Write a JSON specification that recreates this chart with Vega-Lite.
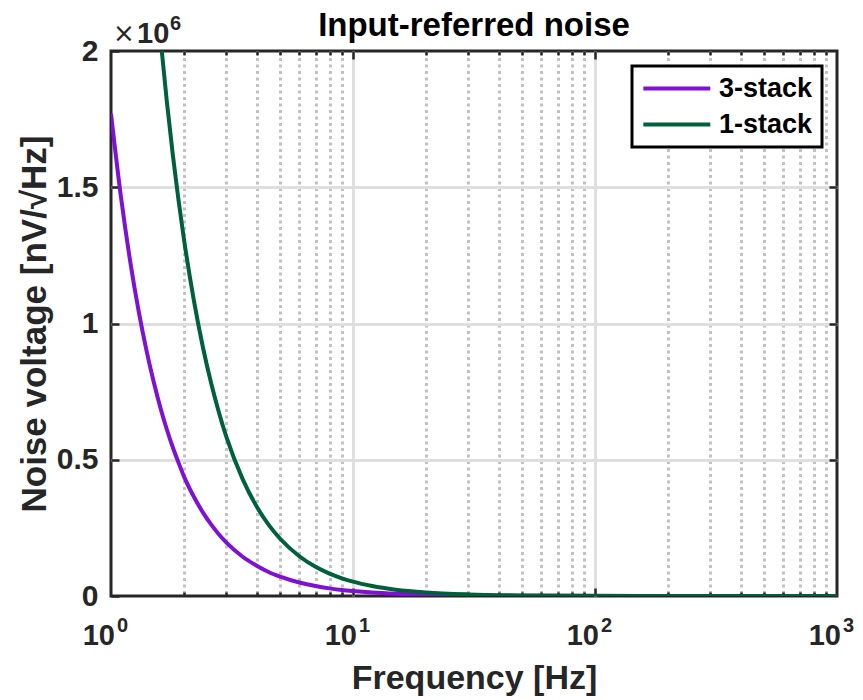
{
  "$schema": "https://vega.github.io/schema/vega-lite/v6.json",
  "width": 726,
  "height": 545,
  "autosize": {"type": "none"},
  "padding": {"left": 111, "top": 51, "right": 26, "bottom": 104},
  "background": "white",
  "title": {"text": "Input-referred noise", "fontSize": 33, "font": "Liberation Sans", "fontWeight": "bold", "color": "#000000", "offset": 9, "dy": 38, "anchor": "middle", "frame": "group"},
  "datasets": {
    "curves": [
      {"f": 1, "v": 1770000, "s": "3-stack"},
      {"f": 1.1, "v": 1463000, "s": "3-stack"},
      {"f": 1.2, "v": 1229000, "s": "3-stack"},
      {"f": 1.3, "v": 1047000, "s": "3-stack"},
      {"f": 1.4, "v": 903000, "s": "3-stack"},
      {"f": 1.5, "v": 787000, "s": "3-stack"},
      {"f": 1.6, "v": 691000, "s": "3-stack"},
      {"f": 1.7, "v": 612000, "s": "3-stack"},
      {"f": 1.8, "v": 546000, "s": "3-stack"},
      {"f": 1.9, "v": 490000, "s": "3-stack"},
      {"f": 2, "v": 440000, "s": "3-stack"},
      {"f": 2.2, "v": 364000, "s": "3-stack"},
      {"f": 2.4, "v": 306000, "s": "3-stack"},
      {"f": 2.6, "v": 261000, "s": "3-stack"},
      {"f": 2.8, "v": 225000, "s": "3-stack"},
      {"f": 3, "v": 196000, "s": "3-stack"},
      {"f": 3.5, "v": 144000, "s": "3-stack"},
      {"f": 4, "v": 111000, "s": "3-stack"},
      {"f": 4.5, "v": 87000, "s": "3-stack"},
      {"f": 5, "v": 71000, "s": "3-stack"},
      {"f": 6, "v": 49500, "s": "3-stack"},
      {"f": 7, "v": 36500, "s": "3-stack"},
      {"f": 8, "v": 28000, "s": "3-stack"},
      {"f": 9, "v": 22000, "s": "3-stack"},
      {"f": 10, "v": 18000, "s": "3-stack"},
      {"f": 12, "v": 12500, "s": "3-stack"},
      {"f": 15, "v": 8000, "s": "3-stack"},
      {"f": 20, "v": 4500, "s": "3-stack"},
      {"f": 30, "v": 2000, "s": "3-stack"},
      {"f": 50, "v": 700, "s": "3-stack"},
      {"f": 100, "v": 180, "s": "3-stack"},
      {"f": 200, "v": 45, "s": "3-stack"},
      {"f": 500, "v": 7, "s": "3-stack"},
      {"f": 1000, "v": 2, "s": "3-stack"},
      {"f": 1.55, "v": 2185000, "s": "1-stack"},
      {"f": 1.6, "v": 2051000, "s": "1-stack"},
      {"f": 1.7, "v": 1817000, "s": "1-stack"},
      {"f": 1.8, "v": 1620000, "s": "1-stack"},
      {"f": 1.9, "v": 1454000, "s": "1-stack"},
      {"f": 2, "v": 1312000, "s": "1-stack"},
      {"f": 2.2, "v": 1085000, "s": "1-stack"},
      {"f": 2.4, "v": 911000, "s": "1-stack"},
      {"f": 2.6, "v": 777000, "s": "1-stack"},
      {"f": 2.8, "v": 670000, "s": "1-stack"},
      {"f": 3, "v": 583000, "s": "1-stack"},
      {"f": 3.5, "v": 429000, "s": "1-stack"},
      {"f": 4, "v": 328000, "s": "1-stack"},
      {"f": 4.5, "v": 259000, "s": "1-stack"},
      {"f": 5, "v": 210000, "s": "1-stack"},
      {"f": 6, "v": 146000, "s": "1-stack"},
      {"f": 7, "v": 107000, "s": "1-stack"},
      {"f": 8, "v": 82000, "s": "1-stack"},
      {"f": 9, "v": 65000, "s": "1-stack"},
      {"f": 10, "v": 52500, "s": "1-stack"},
      {"f": 12, "v": 36500, "s": "1-stack"},
      {"f": 15, "v": 23300, "s": "1-stack"},
      {"f": 20, "v": 13100, "s": "1-stack"},
      {"f": 30, "v": 5800, "s": "1-stack"},
      {"f": 50, "v": 2100, "s": "1-stack"},
      {"f": 100, "v": 525, "s": "1-stack"},
      {"f": 200, "v": 131, "s": "1-stack"},
      {"f": 500, "v": 21, "s": "1-stack"},
      {"f": 1000, "v": 5, "s": "1-stack"}
    ],
    "xticks": [
      {"f": 1, "base": "10", "exp": "0"},
      {"f": 10, "base": "10", "exp": "1"},
      {"f": 100, "base": "10", "exp": "2"},
      {"f": 1000, "base": "10", "exp": "3"}
    ],
    "mult": [
      {"f": 1, "v": 2000000, "times": "×", "base": "10", "exp": "6"}
    ]
  },
  "layer": [
    {
      "data": {"name": "curves"},
      "mark": {"type": "line", "strokeWidth": 4, "clip": true, "interpolate": "monotone"},
      "encoding": {
        "x": {
          "field": "f", "type": "quantitative",
          "scale": {"type": "log", "domain": [1, 1000], "nice": false},
          "axis": {"orient": "bottom", "values": [10, 100], "grid": true, "gridColor": "#dfdfdf", "gridWidth": 3, "labels": false, "ticks": true, "tickSize": -8, "tickWidth": 2.5, "domain": false, "title": "Frequency [Hz]", "titleFontSize": 34, "titlePadding": 64}
        },
        "y": {
          "field": "v", "type": "quantitative",
          "scale": {"domain": [0, 2000000], "nice": false},
          "axis": {"orient": "left", "values": [0, 500000, 1000000, 1500000, 2000000], "grid": false, "labelExpr": "format(datum.value / 1000000, '.1~f')", "labelFontSize": 30, "labelPadding": 21, "tickSize": -8, "tickWidth": 2.5, "domain": false, "title": "Noise voltage [nV/√Hz]", "titleFontSize": 35, "titlePadding": 4}
        },
        "color": {
          "field": "s", "type": "nominal",
          "scale": {"domain": ["3-stack", "1-stack"], "range": ["#7E11D2", "#00603B"]},
          "legend": {"title": null, "orient": "top-right", "offset": 15, "symbolType": "M-1,0H5", "symbolSize": 498, "symbolStrokeWidth": 4, "labelFontSize": 27, "labelFont": "Liberation Sans", "labelFontWeight": "bold", "labelColor": "#000000", "strokeColor": "#000000", "fillColor": "#ffffff", "padding": 9, "rowPadding": 8, "labelOffset": 51}
        }
      }
    },
    {
      "data": {"name": "xticks"},
      "mark": {"type": "text", "align": "right", "baseline": "alphabetic", "dx": 4, "dy": 49, "fontSize": 29, "font": "Liberation Sans", "fontWeight": "bold", "color": "#262626"},
      "encoding": {
        "x": {
          "field": "f", "type": "quantitative",
          "scale": {"type": "log", "domain": [1, 1000], "nice": false},
          "axis": {"orient": "bottom", "values": [2, 3, 4, 5, 6, 7, 8, 9, 20, 30, 40, 50, 60, 70, 80, 90, 200, 300, 400, 500, 600, 700, 800, 900], "grid": true, "gridColor": "#c2c2c2", "gridWidth": 3, "gridDash": [3, 3.5], "labels": false, "tickSize": -4, "tickWidth": 2.5, "domain": false, "title": null}
        },
        "y": {
          "datum": 0, "type": "quantitative",
          "axis": {"orient": "right", "values": [500000, 1000000, 1500000], "grid": true, "gridColor": "#dfdfdf", "gridWidth": 3, "labels": false, "tickSize": -8, "tickWidth": 2.5, "domain": false, "title": null}
        },
        "text": {"field": "base"}
      }
    },
    {
      "data": {"name": "xticks"},
      "mark": {"type": "text", "align": "left", "baseline": "alphabetic", "dx": 6, "dy": 36, "fontSize": 20, "font": "Liberation Sans", "fontWeight": "bold", "color": "#262626"},
      "encoding": {
        "x": {
          "field": "f", "type": "quantitative",
          "scale": {"type": "log", "domain": [1, 1000], "nice": false},
          "axis": {"orient": "top", "values": [10, 100], "grid": false, "labels": false, "tickSize": -8, "tickWidth": 2.5, "domain": false, "title": null}
        },
        "y": {"datum": 0, "type": "quantitative", "axis": null},
        "text": {"field": "exp"}
      }
    },
    {
      "data": {"name": "mult"},
      "mark": {"type": "text", "align": "left", "baseline": "alphabetic", "dx": 2, "dy": -9, "fontSize": 26, "font": "DejaVu Sans", "fontWeight": "normal", "color": "#262626"},
      "encoding": {
        "x": {
          "field": "f", "type": "quantitative",
          "scale": {"type": "log", "domain": [1, 1000], "nice": false},
          "axis": {"orient": "top", "values": [2, 3, 4, 5, 6, 7, 8, 9, 20, 30, 40, 50, 60, 70, 80, 90, 200, 300, 400, 500, 600, 700, 800, 900], "grid": false, "labels": false, "tickSize": -4, "tickWidth": 2.5, "domain": false, "title": null}
        },
        "y": {"field": "v", "type": "quantitative", "axis": null},
        "text": {"field": "times"}
      }
    },
    {
      "data": {"name": "mult"},
      "mark": {"type": "text", "align": "left", "baseline": "alphabetic", "dx": 26, "dy": -8, "fontSize": 29, "font": "Liberation Sans", "fontWeight": "bold", "color": "#262626"},
      "encoding": {
        "x": {"field": "f", "type": "quantitative", "axis": null},
        "y": {"field": "v", "type": "quantitative", "axis": null},
        "text": {"field": "base"}
      }
    },
    {
      "data": {"name": "mult"},
      "mark": {"type": "text", "align": "left", "baseline": "alphabetic", "dx": 59, "dy": -21, "fontSize": 20, "font": "Liberation Sans", "fontWeight": "bold", "color": "#262626"},
      "encoding": {
        "x": {"field": "f", "type": "quantitative", "axis": null},
        "y": {"field": "v", "type": "quantitative", "axis": null},
        "text": {"field": "exp"}
      }
    }
  ],
  "resolve": {"axis": {"x": "independent", "y": "independent"}},
  "config": {
    "font": "Liberation Sans",
    "view": {"stroke": "#262626", "strokeWidth": 3},
    "axis": {"labelFont": "Liberation Sans", "titleFont": "Liberation Sans", "labelFontWeight": "bold", "titleFontWeight": "bold", "tickColor": "#262626", "labelColor": "#262626", "titleColor": "#262626"},
    "legend": {"strokeWidth": 3}
  }
}
